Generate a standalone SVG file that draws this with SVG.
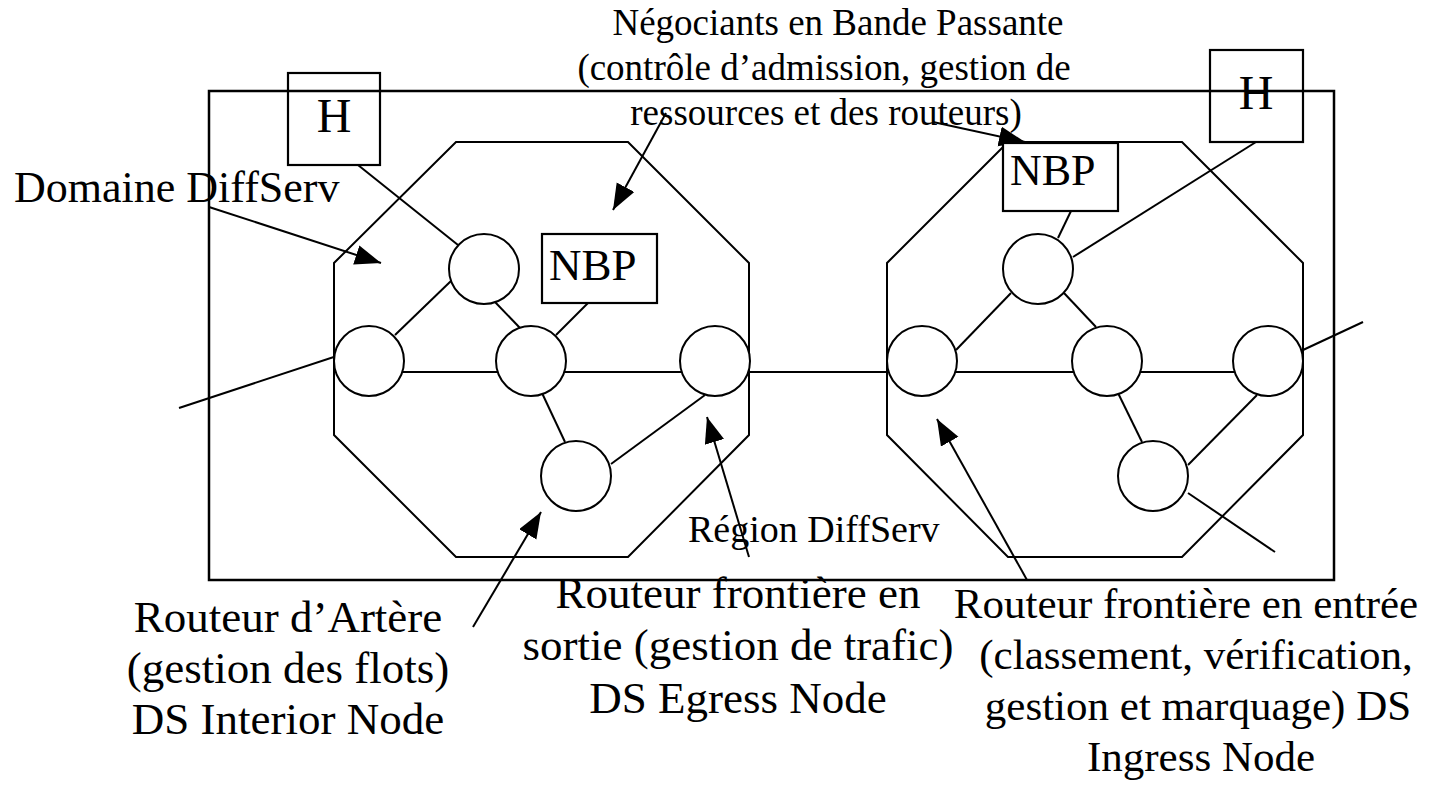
<svg xmlns="http://www.w3.org/2000/svg" width="1433" height="785" viewBox="0 0 1433 785">
<style>
.ln{stroke:#000;stroke-width:2;fill:none}
.bx{stroke:#000;stroke-width:2.2;fill:#fff}
.nd{stroke:#000;stroke-width:2;fill:#fff}
.ar{stroke:#000;stroke-width:2;fill:none;marker-end:url(#ah)}
</style>
<defs>
<marker id="ah" markerUnits="userSpaceOnUse" markerWidth="28" markerHeight="22" refX="26" refY="10" orient="auto">
<path d="M0,0 L26,10 L0,20 Z" fill="#000"/>
</marker>
</defs>
<rect width="1433" height="785" fill="#fff"/>
<g id="region">
<rect x="209" y="91" width="1125" height="489" class="ln" style="stroke-width:2.5"/>
<text font-family="Liberation Serif, DejaVu Serif, serif" x="688" y="542" font-size="38">Région DiffServ</text>
</g>
<g id="domain-left">
<polygon points="456,142 628,142 749,263 749,435 628,557 456,557 334,435 334,263" class="ln"/>
</g>
<g id="domain-right">
<polygon points="1008,142 1182,142 1303,263 1303,435 1182,557 1008,557 887,435 887,263" class="ln"/>
</g>
<g id="connectors">
<line x1="358" y1="165" x2="458" y2="245" class="ln"/>
<line x1="452" y1="280" x2="395" y2="335" class="ln"/>
<line x1="495" y1="302" x2="520" y2="328" class="ln"/>
<line x1="588" y1="303" x2="556" y2="335" class="ln"/>
<line x1="402" y1="372" x2="498" y2="372" class="ln"/>
<line x1="564" y1="372" x2="682" y2="372" class="ln"/>
<line x1="748" y1="372" x2="889" y2="372" class="ln"/>
<line x1="542" y1="393" x2="565" y2="442" class="ln"/>
<line x1="611" y1="464" x2="705" y2="395" class="ln"/>
<line x1="179" y1="408" x2="349" y2="352" class="ln"/>
<line x1="1071" y1="211" x2="1058" y2="238" class="ln"/>
<line x1="1256" y1="142" x2="1073" y2="257" class="ln"/>
<line x1="1011" y1="293" x2="956" y2="350" class="ln"/>
<line x1="1064" y1="293" x2="1096" y2="327" class="ln"/>
<line x1="955" y1="372" x2="1074" y2="372" class="ln"/>
<line x1="1140" y1="372" x2="1235" y2="372" class="ln"/>
<line x1="1303" y1="350" x2="1363" y2="322" class="ln"/>
<line x1="1118" y1="393" x2="1142" y2="442" class="ln"/>
<line x1="1188" y1="465" x2="1257" y2="395" class="ln"/>
<line x1="1188" y1="493" x2="1275" y2="552" class="ln"/>
<line x1="209" y1="207" x2="381" y2="263" class="ar"/>
<line x1="666" y1="113" x2="613" y2="210" class="ar"/>
<line x1="933" y1="122" x2="1025" y2="142" class="ar"/>
<line x1="473" y1="627" x2="541" y2="512" class="ar"/>
<line x1="749" y1="557" x2="707" y2="417" class="ar"/>
<line x1="1027" y1="580" x2="937" y2="419" class="ar"/>
</g>
<g id="h-left">
<rect x="288" y="73" width="92" height="92" class="bx" style="fill:none"/>
<text font-family="Liberation Serif, DejaVu Serif, serif" x="334" y="132" font-size="48" text-anchor="middle">H</text>
</g>
<g id="h-right">
<rect x="1210" y="50" width="93" height="92" class="bx" style="fill:none"/>
<text font-family="Liberation Serif, DejaVu Serif, serif" x="1256" y="109" font-size="48" text-anchor="middle">H</text>
</g>
<g id="nbp-left">
<rect x="542" y="234" width="115" height="69" class="bx"/>
<text font-family="Liberation Serif, DejaVu Serif, serif" x="549" y="280" font-size="45">NBP</text>
</g>
<g id="nbp-right">
<rect x="1003" y="143" width="115" height="68" class="bx"/>
<text font-family="Liberation Serif, DejaVu Serif, serif" x="1010" y="185" font-size="44">NBP</text>
</g>
<g id="n-l-top"><circle cx="484" cy="269" r="35" class="nd"/></g>
<g id="n-l-left"><circle cx="369" cy="361" r="35" class="nd"/></g>
<g id="n-l-mid"><circle cx="531" cy="361" r="35" class="nd"/></g>
<g id="n-l-right"><circle cx="715" cy="361" r="35" class="nd"/></g>
<g id="n-l-bot"><circle cx="576" cy="476" r="35" class="nd"/></g>
<g id="n-r-top"><circle cx="1038" cy="269" r="35" class="nd"/></g>
<g id="n-r-left"><circle cx="922" cy="361" r="35" class="nd"/></g>
<g id="n-r-mid"><circle cx="1107" cy="361" r="35" class="nd"/></g>
<g id="n-r-right"><circle cx="1268" cy="361" r="35" class="nd"/></g>
<g id="n-r-bot"><circle cx="1153" cy="476" r="35" class="nd"/></g>
<g id="label-nbp" font-family="Liberation Serif, DejaVu Serif, serif" font-size="37" text-anchor="middle">
<text x="838" y="35">Négociants en Bande Passante</text>
<text x="824" y="80">(contrôle d’admission, gestion de</text>
<text x="826" y="125">ressources et des routeurs)</text>
</g>
<g id="label-domaine">
<text font-family="Liberation Serif, DejaVu Serif, serif" x="14" y="202" font-size="44">Domaine DiffServ</text>
</g>
<g id="label-interior" font-family="Liberation Serif, DejaVu Serif, serif" font-size="45" text-anchor="middle">
<text x="288" y="632">Routeur d’Artère</text>
<text x="288" y="683">(gestion des flots)</text>
<text x="288" y="734">DS Interior Node</text>
</g>
<g id="label-egress" font-family="Liberation Serif, DejaVu Serif, serif" font-size="45" text-anchor="middle">
<text x="738" y="608">Routeur frontière en</text>
<text x="738" y="660">sortie (gestion de trafic)</text>
<text x="738" y="713">DS Egress Node</text>
</g>
<g id="label-ingress" font-family="Liberation Serif, DejaVu Serif, serif" font-size="43" text-anchor="middle">
<text x="1186" y="618">Routeur frontière en entrée</text>
<text x="1196" y="669">(classement, vérification,</text>
<text x="1198" y="720">gestion et marquage) DS</text>
<text x="1201" y="771">Ingress Node</text>
</g>
</svg>
